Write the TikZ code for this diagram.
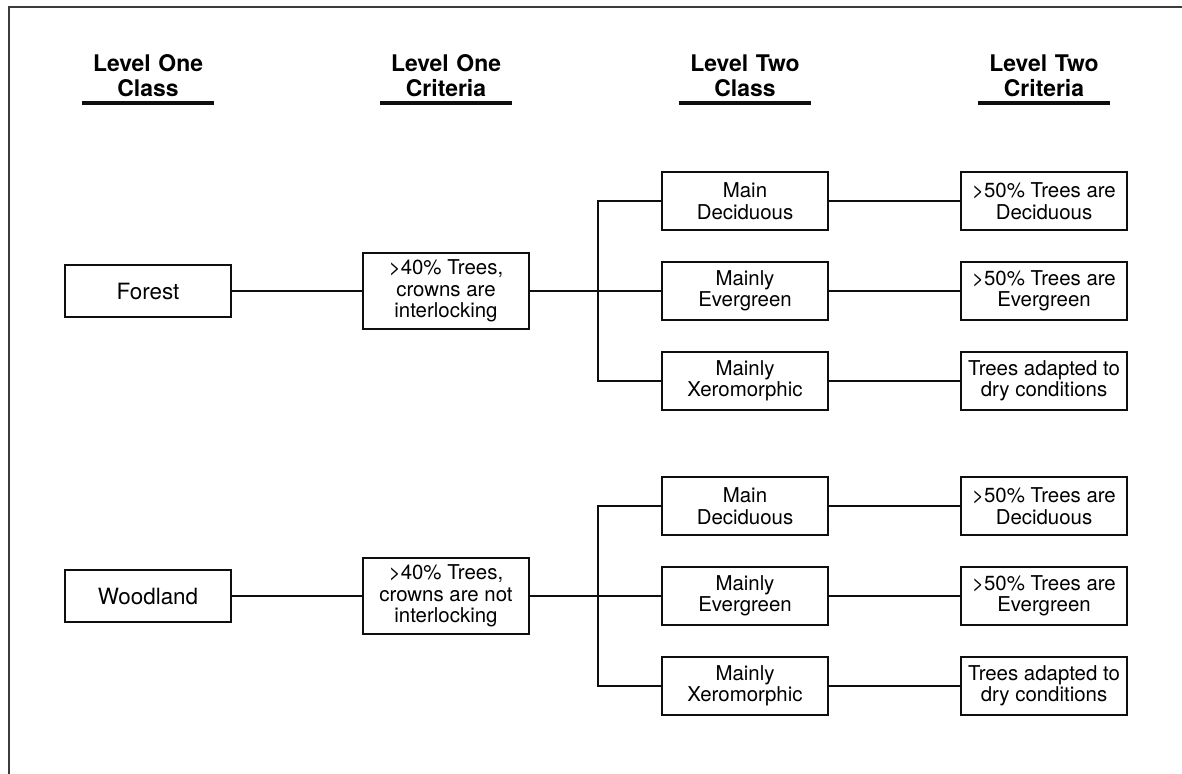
\documentclass[tikz,border=0pt]{standalone}
\usepackage{fontspec}
\setmainfont{TeX Gyre Heros}
\usepackage{xcolor}
\usepackage{tikz}
\usetikzlibrary{positioning,calc}
\definecolor{ink}{RGB}{15,15,15}
\definecolor{framegray}{RGB}{60,60,60}
\tikzset{
  box/.style={draw=ink, line width=2.8bp, fill=white, align=center, inner xsep=4bp,
    minimum width=166bp, font=\fontsize{20.5}{21.5}\selectfont},
  classbox/.style={box, minimum height=52bp, font=\fontsize{22.5}{24}\selectfont},
  critbox/.style={box, minimum height=76bp},
  subbox/.style={box, minimum height=58bp},
  head/.style={anchor=south, align=center, text width=131bp, inner xsep=0pt, inner ysep=6bp,
    font=\fontsize{23}{25}\selectfont\bfseries},
  hline/.style={draw=ink, line width=3.2bp},
  link/.style={draw=ink, line width=2.5bp}
}
\begin{document}
\begin{tikzpicture}[x=1bp, y=-1bp]
    \useasboundingbox (0,0) rectangle (1182,774);
    % frame (runs off the right and bottom edge)
    \draw[framegray, line width=1.8bp] (1182,7) -- (9,7) -- (9,774);

    % column heads, columns at x=148,446,745,1044
    \node[head] (hd1) at (148,103)  {Level One\\Class};
    \node[head] (hd2) at (446,103)  {Level One\\Criteria};
    \node[head] (hd3) at (745,103)  {Level Two\\Class};
    \node[head] (hd4) at (1044,103) {Level Two\\Criteria};
    \draw[hline] (hd1.south west) -- (hd1.south east);
    \draw[hline] (hd2.south west) -- (hd2.south east);
    \draw[hline] (hd3.south west) -- (hd3.south east);
    \draw[hline] (hd4.south west) -- (hd4.south east);

    % Forest (y=291)
    \node[classbox] (forest) at (148,291) {Forest};
    \node[critbox] (fcrit) at (446,291) {>40\% Trees,\\crowns are\\interlocking};
    \node[subbox] (fdec) at (745,201) {Main\\Deciduous};
    \node[subbox] (fevg) at (745,291) {Mainly\\Evergreen};
    \node[subbox] (fxer) at (745,381) {Mainly\\Xeromorphic};
    \node[subbox] (fdecc) at (1044,201) {>50\% Trees are\\Deciduous};
    \node[subbox] (fevgc) at (1044,291) {>50\% Trees are\\Evergreen};
    \node[subbox] (fxerc) at (1044,381) {Trees adapted to\\dry conditions};
    \coordinate (fbr) at (598,291);

    % Woodland (y=596)
    \node[classbox] (wood) at (148,596) {Woodland};
    \node[critbox] (wcrit) at (446,596) {>40\% Trees,\\crowns are not\\interlocking};
    \node[subbox] (wdec) at (745,506) {Main\\Deciduous};
    \node[subbox] (wevg) at (745,596) {Mainly\\Evergreen};
    \node[subbox] (wxer) at (745,686) {Mainly\\Xeromorphic};
    \node[subbox] (wdecc) at (1044,506) {>50\% Trees are\\Deciduous};
    \node[subbox] (wevgc) at (1044,596) {>50\% Trees are\\Evergreen};
    \node[subbox] (wxerc) at (1044,686) {Trees adapted to\\dry conditions};
    \coordinate (wbr) at (598,596);

    % connectors
    \draw[link] (forest) -- (fcrit);
    \draw[link] (fcrit) -- (fevg);
    \draw[link] (fdec.west) -| (fbr) |- (fxer.west);
    \draw[link] (fdec) -- (fdecc);
    \draw[link] (fevg) -- (fevgc);
    \draw[link] (fxer) -- (fxerc);

    \draw[link] (wood) -- (wcrit);
    \draw[link] (wcrit) -- (wevg);
    \draw[link] (wdec.west) -| (wbr) |- (wxer.west);
    \draw[link] (wdec) -- (wdecc);
    \draw[link] (wevg) -- (wevgc);
    \draw[link] (wxer) -- (wxerc);
\end{tikzpicture}
\end{document}
